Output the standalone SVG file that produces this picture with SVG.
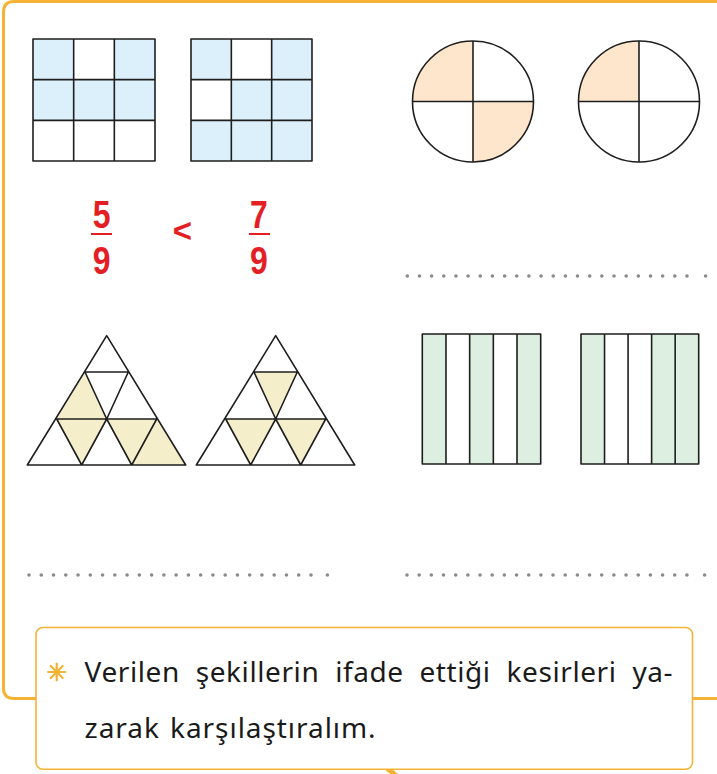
<svg xmlns="http://www.w3.org/2000/svg" width="717" height="774" viewBox="0 0 717 774">
<style>
.ln{fill:none;stroke:#1e1e1e;stroke-width:1.6;stroke-linejoin:round}
.bl{fill:#dcf0fb}
.or{fill:#fde6cc}
.ye{fill:#f5eecb}
.gr{fill:#dcefe1}
.frame{fill:none;stroke:#f5b335;stroke-width:3}
.box{fill:#ffffff;stroke:#f5b335;stroke-width:1.6}
.dots{stroke:#8a8a8a;stroke-width:3.6;stroke-linecap:round;fill:none}
.dot{fill:#8a8a8a}
.frac{font-family:"Liberation Sans",Arial,sans-serif;font-weight:bold;font-size:39px;fill:#e31e24;text-anchor:middle}
.fl{stroke:#e31e24;stroke-width:2}
.txt{font-family:"Noto Sans","Open Sans",sans-serif;font-size:28px;fill:#1a1a1a;word-spacing:8px}
</style>
<rect width="717" height="774" fill="#ffffff"/>
<g id="frame">
<path class="frame" d="M717 1.5 H14 Q3.5 1.5 3.5 12 V688 Q3.5 698.5 14 698.5 H36 M692 698.5 H717"/>
<polygon points="383,768 391,768 398,774 390,774" fill="#f5b335"/>
</g>
<g id="grid1">
<rect class="bl" x="33" y="39" width="40.67" height="40.67"/>
<rect class="bl" x="114.33" y="39" width="40.67" height="40.67"/>
<rect class="bl" x="33" y="79.67" width="122" height="40.67"/>
<path class="ln" d="M33 39 H155 V161 H33 Z M73.67 39 V161 M114.33 39 V161 M33 79.67 H155 M33 120.33 H155"/>
</g>
<g id="grid2">
<rect class="bl" x="191" y="39" width="40.33" height="40.67"/>
<rect class="bl" x="271.67" y="39" width="40.33" height="40.67"/>
<rect class="bl" x="231.33" y="79.67" width="80.67" height="40.67"/>
<rect class="bl" x="191" y="120.33" width="121" height="40.67"/>
<path class="ln" d="M191 39 H312 V161 H191 Z M231.33 39 V161 M271.67 39 V161 M191 79.67 H312 M191 120.33 H312"/>
</g>
<g id="circle1">
<path class="or" d="M473 101.5 H412.5 A60.5 60.5 0 0 1 473 41 Z"/>
<path class="or" d="M473 101.5 H533.5 A60.5 60.5 0 0 1 473 162 Z"/>
<circle class="ln" cx="473" cy="101.5" r="60.5"/>
<path class="ln" d="M473 41 V162 M412.5 101.5 H533.5"/>
</g>
<g id="circle2">
<path class="or" d="M639 101.5 H578.5 A60.5 60.5 0 0 1 639 41 Z"/>
<circle class="ln" cx="639" cy="101.5" r="60.5"/>
<path class="ln" d="M639 41 V162 M578.5 101.5 H699.5"/>
</g>
<g id="fraction1">
<text class="frac" transform="translate(101.7 228) scale(0.82 1)">5</text>
<line class="fl" x1="91" y1="234" x2="112" y2="234"/>
<text class="frac" transform="translate(101.7 273.5) scale(0.82 1)">9</text>
</g>
<g id="less">
<text x="182.5" y="242" style="font-family:'Liberation Sans',Arial,sans-serif;font-weight:bold;font-size:33px;fill:#e31e24;text-anchor:middle">&lt;</text>
</g>
<g id="fraction2">
<text class="frac" transform="translate(259 228) scale(0.82 1)">7</text>
<line class="fl" x1="249" y1="234" x2="270" y2="234"/>
<text class="frac" transform="translate(259 273.5) scale(0.82 1)">9</text>
</g>
<g id="dots1">
<line class="dots" x1="407.3" y1="276" x2="687" y2="276" stroke-dasharray="0 12.16"/>
<circle class="dot" cx="705.6" cy="276" r="1.8"/>
</g>
<g id="triangle1">
<polygon class="ye" points="85,372 56.7,419 106.7,419"/>
<polygon class="ye" points="56.7,419 106.7,419 81.7,465"/>
<polygon class="ye" points="106.7,419 156.7,419 131.7,465"/>
<polygon class="ye" points="156.7,419 131.7,465 185.7,465"/>
<path class="ln" d="M106.7 335.7 L185.7 465 H27.3 Z M85 372 H128.3 M56.7 419 H156.7 M85 372 L106.7 419 L128.3 372 M56.7 419 L81.7 465 L106.7 419 L131.7 465 L156.7 419"/>
</g>
<g id="triangle2">
<polygon class="ye" points="255,372 296.7,372 275.7,419"/>
<polygon class="ye" points="225.7,419 275.7,419 250.7,465"/>
<polygon class="ye" points="275.7,419 325.7,419 300.7,465"/>
<path class="ln" d="M275.7 335.7 L354.7 465 H196.3 Z M254 372 H297.3 M225.7 419 H325.7 M254 372 L275.7 419 L297.3 372 M225.7 419 L250.7 465 L275.7 419 L300.7 465 L325.7 419"/>
</g>
<g id="bars1">
<rect class="gr" x="422.3" y="334" width="23.68" height="130"/>
<rect class="gr" x="469.66" y="334" width="23.68" height="130"/>
<rect class="gr" x="517.02" y="334" width="23.68" height="130"/>
<path class="ln" d="M422.3 334 H540.7 V464 H422.3 Z M445.98 334 V464 M469.66 334 V464 M493.34 334 V464 M517.02 334 V464"/>
</g>
<g id="bars2">
<rect class="gr" x="581" y="334" width="23.54" height="130"/>
<rect class="gr" x="651.62" y="334" width="47.08" height="130"/>
<path class="ln" d="M581 334 H698.7 V464 H581 Z M604.54 334 V464 M628.08 334 V464 M651.62 334 V464 M675.16 334 V464"/>
</g>
<g id="dots2">
<line class="dots" x1="29" y1="575" x2="311" y2="575" stroke-dasharray="0 12.26"/>
<circle class="dot" cx="327.4" cy="575" r="1.8"/>
</g>
<g id="dots3">
<line class="dots" x1="407" y1="575" x2="687" y2="575" stroke-dasharray="0 12.17"/>
<circle class="dot" cx="704.6" cy="575" r="1.8"/>
</g>
<g id="instruction">
<rect class="box" x="36" y="627.5" width="656.5" height="141.8" rx="7"/>
<g stroke="#f5b335" stroke-width="2.2" stroke-linecap="round">
<line x1="56.7" y1="663.5" x2="56.7" y2="680.5"/>
<line x1="48.2" y1="672" x2="65.2" y2="672"/>
<line x1="50.7" y1="666" x2="62.7" y2="678"/>
<line x1="50.7" y1="678" x2="62.7" y2="666"/>
</g>
<text class="txt" x="84.6" y="682" textLength="588" lengthAdjust="spacing">Verilen şekillerin ifade ettiği kesirleri ya-</text>
<text class="txt" x="84.6" y="738" textLength="291" lengthAdjust="spacing" style="word-spacing:2px">zarak karşılaştıralım.</text>
</g>
</svg>
